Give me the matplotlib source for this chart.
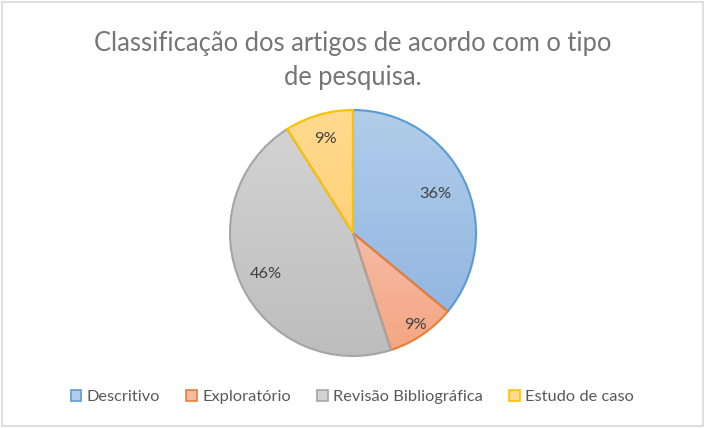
import matplotlib.pyplot as plt
import matplotlib.patches as mpatches
import numpy as np

plt.rcParams['font.family'] = ['Lato', 'DejaVu Sans']

# data
categories = ['Descritivo', 'Exploratório', 'Revisão Bibliográfica', 'Estudo de caso']
percent = [36, 9, 46, 9]
label_dist = [0.74, 0.9, 0.785, 0.8]
title_lines = ['Classificação dos artigos de acordo com o tipo', 'de pesquisa.']

# gradient top / bottom and edge colours
grad_top = ['#b1cdea', '#f6bba3', '#d3d3d3', '#ffda8f']
grad_bot = ['#93b7e2', '#f4a683', '#bdbdbd', '#ffd27a']
edge_cols = ['#5b9bd5', '#ed7d31', '#a5a5a5', '#ffc000']

W, H = 705, 428
fig = plt.figure(figsize=(W / 100, H / 100), dpi=100)

# outer border like Excel chart area
fig.patches.append(mpatches.Rectangle((2 / W, 2 / H), 1 - 4 / W, 1 - 4 / H,
                                      transform=fig.transFigure, fill=False,
                                      edgecolor='#d9d9d9', lw=1.2))

fig.text(0.5, 1 - 43 / H, title_lines[0], ha='center', va='center',
         fontsize=18.4, color='#757575')
fig.text(0.5, 1 - 77 / H, title_lines[1], ha='center', va='center',
         fontsize=18.4, color='#757575')

cx, cy, r = 353, 233, 123
ax = fig.add_axes([(cx - 125) / W, (H - cy - 125) / H, 250 / W, 250 / H])
ax.set_xlim(-125, 125)
ax.set_ylim(-125, 125)
ax.set_aspect('equal')
ax.axis('off')

wedges, _ = ax.pie(percent, radius=r, startangle=90, counterclock=False,
                   colors=['none'] * 4,
                   wedgeprops=dict(edgecolor='none'))

for i, w in enumerate(wedges):
    # gradient over the bbox of each slice
    th = np.radians(np.linspace(w.theta1, w.theta2, 200))
    ys = np.concatenate([[0], r * np.sin(th)])
    xs = np.concatenate([[0], r * np.cos(th)])
    y0, y1 = ys.min(), ys.max()
    x0, x1 = xs.min(), xs.max()
    t = np.linspace(0, 1, 256)[:, None]
    c0 = np.array(plt.matplotlib.colors.to_rgb(grad_top[i]))
    c1 = np.array(plt.matplotlib.colors.to_rgb(grad_bot[i]))
    img = (c0[None, None, :] * (1 - t[:, :, None]) + c1[None, None, :] * t[:, :, None])
    img = np.repeat(img, 2, axis=1)
    im = ax.imshow(img, extent=[x0, x1, y0, y1], origin='upper', zorder=1,
                   interpolation='bilinear')
    im.set_clip_path(w)
    edge = mpatches.Wedge((0, 0), r, w.theta1, w.theta2, fill=False,
                          edgecolor=edge_cols[i], lw=1.5, zorder=3)
    ax.add_patch(edge)

    mid = np.radians((w.theta1 + w.theta2) / 2)
    ax.text(label_dist[i] * r * np.cos(mid), label_dist[i] * r * np.sin(mid),
            f'{percent[i]}%', ha='center', va='center', fontsize=11.8,
            color='#404040', zorder=4)

ax.set_xlim(-125, 125)
ax.set_ylim(-125, 125)

handles = [mpatches.Patch(facecolor=grad_top[i], edgecolor=edge_cols[i], lw=1.2)
           for i in range(4)]
fig.legend(handles, categories, loc='center', bbox_to_anchor=(0.5, 1 - 397 / H),
           ncol=4, frameon=False, fontsize=11.8, labelcolor='#595959',
           handlelength=0.62, handleheight=0.62, handletextpad=0.35,
           columnspacing=1.6)

fig.savefig('out.png', dpi=100)
